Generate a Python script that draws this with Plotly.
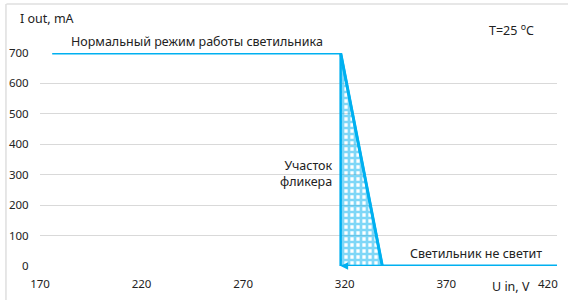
import plotly.graph_objects as go

# data
u_in = [176, 318, 338.5, 424.5]
i_out = [700, 700, 0, 0]
flicker_u = [318, 318, 338.5, 318]
flicker_i = [0, 700, 0, 0]
x_ticks = [170, 220, 270, 320, 370, 420]
y_ticks = [0, 100, 200, 300, 400, 500, 600, 700]

BLUE = "#00B0F0"
FONT = "Noto Sans"

fig = go.Figure()
fig.add_trace(go.Scatter(
    x=flicker_u, y=flicker_i, mode="lines", fill="toself",
    line=dict(color=BLUE, width=2.5),
    fillcolor="rgba(0,0,0,0)",
    fillpattern=dict(shape="+", fgcolor=BLUE, bgcolor="rgba(0,0,0,0)", size=6, solidity=0.7),
    hoverinfo="skip", cliponaxis=False,
))
fig.add_trace(go.Scatter(
    x=u_in, y=i_out, mode="lines", line=dict(color=BLUE, width=3),
    cliponaxis=False,
))

ann = dict(showarrow=False, font=dict(family=FONT, size=12.5, color="#222222"))
fig.add_annotation(x=247.3, y=700, yanchor="bottom", yshift=1,
                   text="Нормальный режим работы светильника", **ann)
fig.add_annotation(x=314.5, y=304, xanchor="right", yanchor="middle", align="right",
                   text="Участок<br>фликера", **ann)
fig.add_annotation(x=384.7, y=42.7, yanchor="middle", text="Светильник не светит", **ann)
fig.add_annotation(xref="paper", yref="paper", x=-0.0425, y=1.16, xanchor="left",
                   yanchor="middle", text="I out, mA", **ann)
fig.add_annotation(xref="paper", yref="paper", x=0.865, y=1.108, xanchor="left",
                   yanchor="middle", text="T=25 <sup>o</sup>C", **ann)
fig.add_annotation(xref="paper", yref="paper", x=0.911, y=-0.094, xanchor="center",
                   yanchor="middle", text="U in, V", **ann)
fig.add_annotation(x=318, y=0, ax=6, ay=0, showarrow=True, arrowhead=2,
                   arrowsize=1, arrowwidth=1.5, arrowcolor=BLUE, text="")

fig.add_shape(type="line", xref="paper", yref="paper", x0=-0.065, x1=1.2,
              y0=(266 - 4) / 213, y1=(266 - 4) / 213, layer="above",
              line=dict(color="#cfcfcf", width=1))
fig.add_shape(type="line", xref="paper", yref="paper", x0=-0.0658, x1=-0.0658,
              y0=(266 - 4) / 213, y1=-0.3, layer="above",
              line=dict(color="#cfcfcf", width=1))

fig.update_layout(
    width=568, height=300, showlegend=False,
    margin=dict(l=40, r=11, t=53, b=34, autoexpand=False),
    plot_bgcolor="white", paper_bgcolor="white",
    font=dict(family=FONT, size=11.5, color="#222222"),
    xaxis=dict(range=[170, 424.5], tickvals=x_ticks, showgrid=False, zeroline=False,
               showline=False, ticks="outside", ticklen=7, tickcolor="rgba(0,0,0,0)",
               automargin=False),
    yaxis=dict(range=[0, 700], tickvals=y_ticks, showgrid=True, gridcolor="#d9d9d9",
               gridwidth=1, zeroline=False, showline=False, ticks="outside", ticklen=8,
               tickcolor="rgba(0,0,0,0)", automargin=False),
)
fig.write_html("out.html", config={"displayModeBar": False},
               post_script="document.body.style.margin='0';document.body.style.overflow='hidden';")
